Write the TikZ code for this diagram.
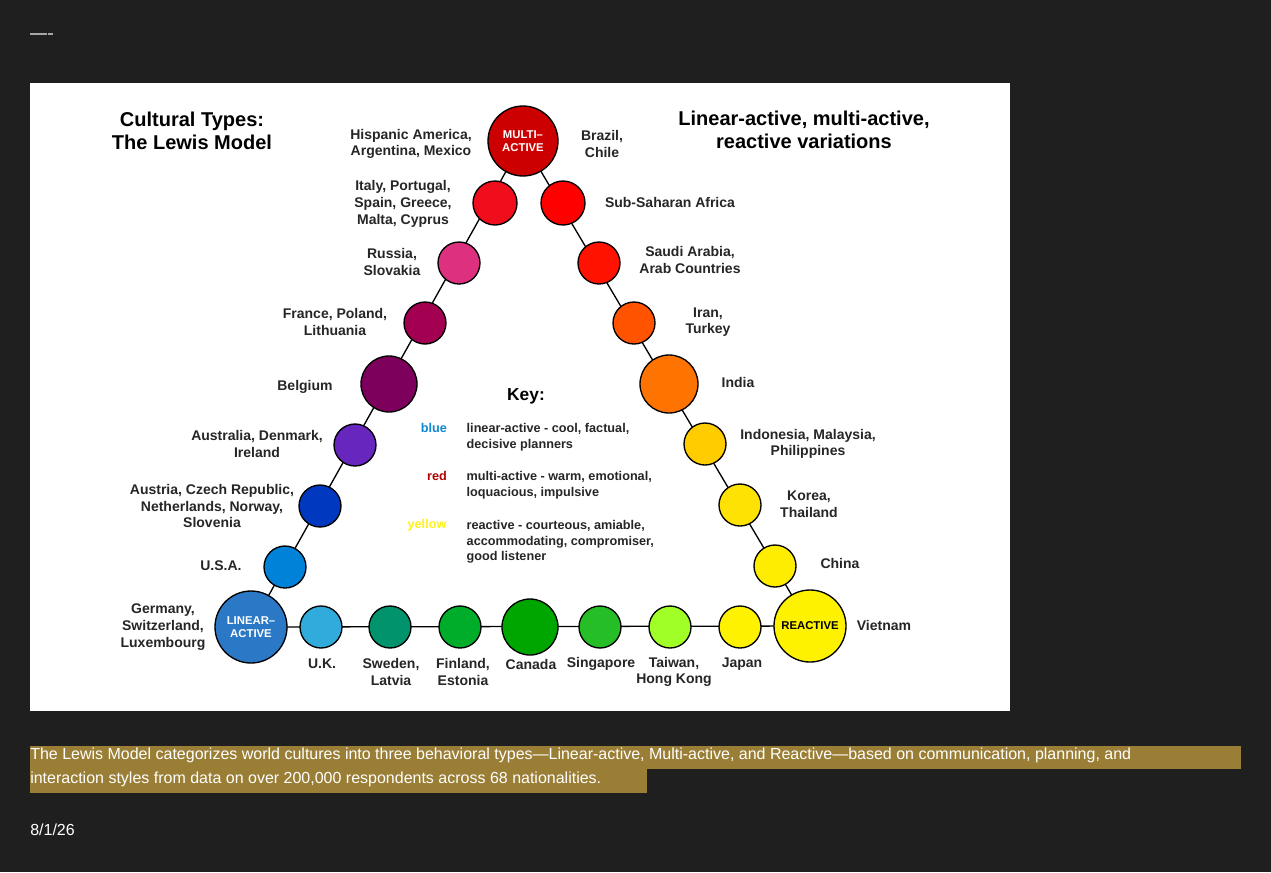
\documentclass[tikz,border=0pt]{standalone}
\usepackage{fontspec}
\setmainfont{Liberation Sans}
\begin{document}
\begin{tikzpicture}[x=0.75pt,y=-0.75pt,
  dot/.style={circle,draw=black,line width=1pt,inner sep=0pt},
  lbl/.style={font=\bfseries\fontsize{10.5}{12.5}\selectfont,align=center,text=black!85},
  key/.style={font=\fontsize{9.5}{11.5}\selectfont\bfseries,align=left,anchor=north west,text=black!85}]
\useasboundingbox (0,0) rectangle (1271,872);
\fill[black!88!white] (0,0) rectangle (1271,872);
\draw[gray!70,line width=1pt] (30,34) -- (47,34) (48,34) -- (53,34);
\fill[white] (30,83) rectangle (1010,711);
% circle centres
\foreach \n/\x/\y in {ma/523/141,it/495/203,ss/563/203,ru/459/263,sa/599/263,fr/425/323,
  ir/634/323,be/389/384,in/669/384,au/355/445,id/705/444,at/320/506,ko/740/505,us/285/567,
  cn/775/566,la/251/627,re/810/626,uk/321/627,sw/390/627,fi/460/627,ca/530/627,sg/600/627,
  tw/670/627,jp/740/627}
  \path (\x,\y) coordinate (p\n);
% connectors
\draw[line width=1pt] (pla) -- (pma) -- (pre) -- cycle;
% circles
\foreach \n/\r/\c in {
  ma/35/{red!80!black},it/22/{red!75!purple!95},ss/22/{red},ru/21/{magenta!60!purple!90},
  sa/21/{red!85!orange},fr/21/{purple!80!magenta!80!black},ir/21/{orange!65!red},be/28/{violet!70!purple!85!black},
  in/29/{orange!90!red},au/21/{violet!60!blue!85!white},id/21/{orange!40!yellow},at/21/{blue!70!cyan!75!black},
  ko/21/{yellow!85!orange},us/21/{blue!40!cyan!85!black},cn/21/{yellow!95!orange},la/36/{cyan!50!blue!90!white},
  re/36/{yellow},uk/21/{cyan!75!teal!90!white},sw/21/{teal!85!green},fi/21/{green!60!teal!85!black},
  ca/28/{green!65!black},sg/21/{green!70!black!85!white},tw/21/{lime!75!green!85!white},jp/21/{yellow}}
  \node[dot,minimum size=1.5*\r pt,fill=\c] (\n) at (p\n) {};
\node[font=\bfseries\fontsize{8.5}{10}\selectfont,text=white,align=center] at (ma) {MULTI--\\ACTIVE};
\node[font=\bfseries\fontsize{8.5}{10}\selectfont,text=white,align=center] at (la) {LINEAR--\\ACTIVE};
\node[font=\bfseries\fontsize{8.5}{10}\selectfont,text=black] at (re) {REACTIVE};
% titles
\node[font=\bfseries\fontsize{15}{17}\selectfont,align=center] (t1) at (192,131) {Cultural Types:\\The Lewis Model};
\node[font=\bfseries\fontsize{15}{17}\selectfont,align=center] (t2) at (804,130) {Linear-active, multi-active,\\reactive variations};
% country labels
\node[lbl] at (411,144) {Hispanic America,\\Argentina, Mexico};
\node[lbl] at (602,144) {Brazil,\\Chile};
\node[lbl] at (403,204) {Italy, Portugal,\\Spain, Greece,\\Malta, Cyprus};
\node[lbl] at (670,202) {Sub-Saharan Africa};
\node[lbl] at (392,262) {Russia,\\Slovakia};
\node[lbl] at (690,260) {Saudi Arabia,\\Arab Countries};
\node[lbl] at (335,322) {France, Poland,\\Lithuania};
\node[lbl] at (708,322) {Iran,\\Turkey};
\node[lbl] at (305,387) {Belgium};
\node[lbl] at (738,382) {India};
\node[lbl] at (257,444) {Australia, Denmark,\\Ireland};
\node[lbl] at (808,444) {Indonesia, Malaysia,\\Philippines};
\node[lbl] at (212,506) {Austria, Czech Republic,\\Netherlands, Norway,\\Slovenia};
\node[lbl] at (809,504) {Korea,\\Thailand};
\node[lbl] at (221,566) {U.S.A.};
\node[lbl] at (840,563) {China};
\node[lbl] at (163,627) {Germany,\\Switzerland,\\Luxembourg};
\node[lbl] at (884,625) {Vietnam};
\node[lbl] at (322,664) {U.K.};
\node[lbl] at (391,672) {Sweden,\\Latvia};
\node[lbl] at (463,672) {Finland,\\Estonia};
\node[lbl] at (531,664) {Canada};
\node[lbl] at (601,664) {Singapore};
\node[lbl] at (674,672) {Taiwan,\\Hong Kong};
\node[lbl] at (742,664) {Japan};
% key
\node[font=\bfseries\fontsize{13}{15}\selectfont] at (526,396) {Key:};
\node[font=\bfseries\fontsize{9.5}{11}\selectfont,text=cyan!70!blue] at (434,428) {blue};
\node[font=\bfseries\fontsize{9.5}{11}\selectfont,text=red!70!black] at (437,476) {red};
\node[font=\bfseries\fontsize{9.5}{11}\selectfont,text=yellow!90!white] at (427,525) {yellow};
\node[key] at (462,419) {linear-active - cool, factual,\\decisive planners};
\node[key] at (462,467) {multi-active - warm, emotional,\\loquacious, impulsive};
\node[key] at (462,516) {reactive - courteous, amiable,\\accommodating, compromiser,\\good listener};
% caption
\fill[brown!60!black!80!yellow!90] (30,746) rectangle (1241,769);
\fill[brown!60!black!80!yellow!90] (30,769) rectangle (647,793);
\node[anchor=north west,align=left,font=\fontsize{12}{18}\selectfont,text=white!85,inner sep=0pt] at (30,748)
  {The Lewis Model categorizes world cultures into three behavioral types---Linear-active, Multi-active, and Reactive---based on communication, planning, and\\interaction styles from data on over 200,000 respondents across 68 nationalities.};
\node[anchor=west,font=\fontsize{12}{14}\selectfont,text=white!75,inner sep=0pt] at (30,830) {8/1/26};
\end{tikzpicture}
\end{document}
